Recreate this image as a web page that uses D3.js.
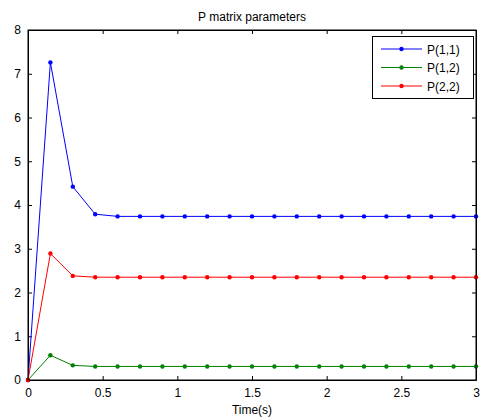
<!DOCTYPE html>
<html>
<head>
<meta charset="utf-8">
<script src="https://cdn.jsdelivr.net/npm/d3@7"></script>
<style>
body { margin: 0; background: #fff; }
text { font-family: "Liberation Sans", Arial, sans-serif; }
</style>
</head>
<body>
<div id="chart"></div>
<script>
// time samples every 0.15 s
var times = [0, 0.15, 0.3, 0.45, 0.6, 0.75, 0.9, 1.05, 1.2, 1.35, 1.5,
	1.65, 1.8, 1.95, 2.1, 2.25, 2.4, 2.55, 2.7, 2.85, 3.0];
var p11 = [0, 7.26, 4.42, 3.79, 3.74, 3.74, 3.74, 3.74, 3.74, 3.74, 3.74,
	3.74, 3.74, 3.74, 3.74, 3.74, 3.74, 3.74, 3.74, 3.74, 3.74];
var p12 = [0, 0.565, 0.335, 0.31, 0.31, 0.31, 0.31, 0.31, 0.31, 0.31, 0.31,
	0.31, 0.31, 0.31, 0.31, 0.31, 0.31, 0.31, 0.31, 0.31, 0.31];
var p22 = [0, 2.89, 2.38, 2.35, 2.35, 2.35, 2.35, 2.35, 2.35, 2.35, 2.35,
	2.35, 2.35, 2.35, 2.35, 2.35, 2.35, 2.35, 2.35, 2.35, 2.35];
var seriesNames = ["P(1,1)", "P(1,2)", "P(2,2)"];
var seriesColors = ["#0000ff", "#008000", "#ff0000"];
var xTicks = [0, 0.5, 1, 1.5, 2, 2.5, 3];
var yTicks = [0, 1, 2, 3, 4, 5, 6, 7, 8];

var width = 483, height = 420;
var pLeft = 28, pRight = 476, pTop = 30, pBottom = 380;

var svg = d3.select("#chart").append("svg")
	.attr("width", width)
	.attr("height", height);

var x = d3.scaleLinear().domain([0, 3]).range([pLeft, pRight]);
var y = d3.scaleLinear().domain([0, 8]).range([pBottom, pTop]);

svg.append("rect")
	.attr("x", pLeft).attr("y", pTop)
	.attr("width", pRight - pLeft).attr("height", pBottom - pTop)
	.attr("fill", "white");

// axes with inward ticks on all four sides
var fmt = function(d){ return d; };
svg.append("g").attr("transform", "translate(0," + pBottom + ")")
	.call(d3.axisBottom(x).tickValues(xTicks).tickFormat(fmt).tickSizeInner(-4).tickSizeOuter(0).tickPadding(8));
svg.append("g").attr("transform", "translate(0," + pTop + ")")
	.call(d3.axisTop(x).tickValues(xTicks).tickFormat("").tickSizeInner(-4).tickSizeOuter(0));
svg.append("g").attr("transform", "translate(" + pLeft + ",0)")
	.call(d3.axisLeft(y).tickValues(yTicks).tickFormat(fmt).tickSizeInner(-4).tickSizeOuter(0).tickPadding(7));
svg.append("g").attr("transform", "translate(" + pRight + ",0)")
	.call(d3.axisRight(y).tickValues(yTicks).tickFormat("").tickSizeInner(-4).tickSizeOuter(0));

svg.selectAll(".tick text").attr("font-size", 12).attr("fill", "#000");
svg.selectAll(".domain").attr("stroke", "#000");

var allSeries = [p11, p12, p22];
var line = d3.line()
	.x(function(d, i){ return x(times[i]); })
	.y(function(d){ return y(d); });

allSeries.forEach(function(vals, k){
	svg.append("path")
		.datum(vals)
		.attr("d", line)
		.attr("fill", "none")
		.attr("stroke", seriesColors[k])
		.attr("stroke-width", 1);
	svg.selectAll(".pt" + k).data(vals).enter()
		.append("circle")
		.attr("cx", function(d, i){ return x(times[i]); })
		.attr("cy", function(d){ return y(d); })
		.attr("r", 2.2)
		.attr("fill", seriesColors[k]);
});

// frame
svg.append("rect")
	.attr("x", pLeft).attr("y", pTop)
	.attr("width", pRight - pLeft).attr("height", pBottom - pTop)
	.attr("fill", "none").attr("stroke", "#000");

// title and x label
svg.append("text")
	.attr("x", (pLeft + pRight) / 2).attr("y", 21)
	.attr("text-anchor", "middle").attr("font-size", 12)
	.text("P matrix parameters");
svg.append("text")
	.attr("x", (pLeft + pRight) / 2).attr("y", 414)
	.attr("text-anchor", "middle").attr("font-size", 12)
	.text("Time(s)");

// legend
var legend = svg.append("g");
legend.append("rect")
	.attr("x", 372.5).attr("y", 36.5)
	.attr("width", 101).attr("height", 62)
	.attr("fill", "white").attr("stroke", "#000");
seriesNames.forEach(function(name, k){
	var ly = 49 + k * 18.5;
	legend.append("line")
		.attr("x1", 381).attr("x2", 422)
		.attr("y1", ly).attr("y2", ly)
		.attr("stroke", seriesColors[k]);
	legend.append("circle")
		.attr("cx", 401.5).attr("cy", ly).attr("r", 2.2)
		.attr("fill", seriesColors[k]);
	legend.append("text")
		.attr("x", 427).attr("y", ly + 4.5)
		.attr("font-size", 12)
		.text(name);
});
</script>
</body>
</html>
